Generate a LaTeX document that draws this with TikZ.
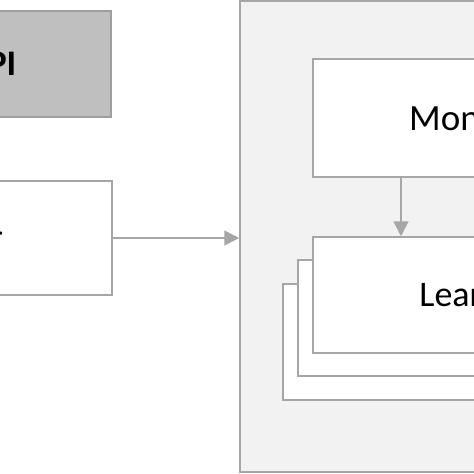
\documentclass[tikz,border=0pt]{standalone}
\usepackage{fontspec}
\setmainfont{Carlito}
\usetikzlibrary{arrows.meta,positioning}
\definecolor{linegray}{HTML}{A6A6A6}
\definecolor{apigray}{HTML}{BFBFBF}
\definecolor{panelgray}{HTML}{F2F2F2}

\begin{document}
\begin{tikzpicture}[x=1pt, y=-1pt]
    % Define block styles
    \tikzstyle{panel} = [rectangle, draw=linegray, line width=1.5pt, fill=panelgray, inner sep=0pt]
    \tikzstyle{block} = [rectangle, draw=linegray, line width=1.5pt, fill=white, inner sep=0pt, font=\fontsize{36}{40}\selectfont]
    \tikzstyle{apiblock} = [block, fill=apigray, draw=black!38]
    \tikzstyle{arrow} = [draw=linegray, line width=1.5pt, -{Triangle[length=15pt, width=15pt, fill=linegray]}]

    \useasboundingbox (0,0) rectangle (474,474);
    \clip (0,0) rectangle (474,474);

    % Nodes
    \node (engine) [panel, minimum width=460pt, minimum height=471pt] at (470,236.5) {};
    \node (api) [apiblock, minimum width=240pt, minimum height=106pt] at (-9,64) {\bfseries API};
    \node (user) [block, minimum width=286pt, minimum height=114pt] at (-31,238) {User};
    \node (mon) [block, minimum width=322pt, minimum height=118pt] at (474,118) {\kern-6pt\fontsize{37}{40}\selectfont Monitor};
    \node (learn3) [block, minimum width=322pt, minimum height=116pt] at (444,342) {};
    \node (learn2) [block, minimum width=322pt, minimum height=116pt] at (459,318) {};
    \node (learn) [block, minimum width=322pt, minimum height=116pt] at (474,295) {\kern3pt Learner};

    % Arrows between nodes
    \draw [arrow] (user.east) -- (user.east -| engine.west);
    \draw [arrow] ([xshift=-73pt]mon.south) -- ([xshift=-73pt]learn.north);
\end{tikzpicture}
\end{document}
